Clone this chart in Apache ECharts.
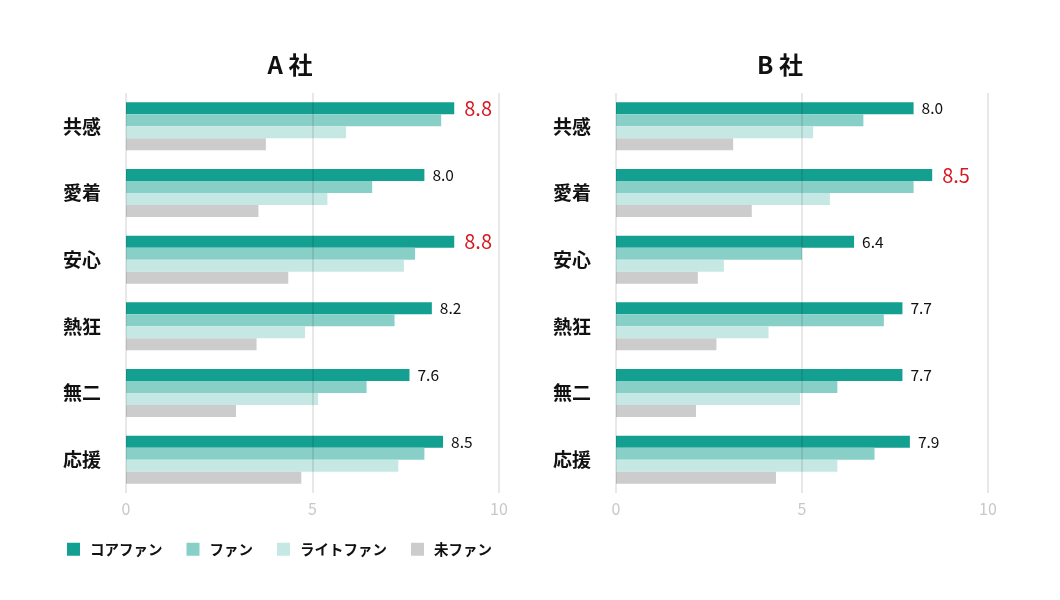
<!DOCTYPE html>
<html>
<head>
<meta charset="utf-8">
<script src="https://cdn.jsdelivr.net/npm/echarts@6/dist/echarts.min.js"></script>
<style>
html,body{margin:0;padding:0;background:#fff;}
#main{width:1060px;height:600px;}
</style>
</head>
<body>
<div id="main"></div>
<script>
const categories = ['共感', '愛着', '安心', '熱狂', '無二', '応援'];
const seriesNames = ['コアファン', 'ファン', 'ライトファン', '未ファン'];
const companyTitles = ['A 社', 'B 社'];
const xTicks = [0, 5, 10];

// A社
const aCore  = [8.8, 8.0, 8.8, 8.2, 7.6, 8.5];
const aFan   = [8.45, 6.6, 7.75, 7.2, 6.45, 8.0];
const aLight = [5.9, 5.4, 7.45, 4.8, 5.15, 7.3];
const aNon   = [3.75, 3.55, 4.35, 3.5, 2.95, 4.7];

// B社
const bCore  = [8.0, 8.5, 6.4, 7.7, 7.7, 7.9];
const bFan   = [6.65, 8.0, 5.0, 7.2, 5.95, 6.95];
const bLight = [5.3, 5.75, 2.9, 4.1, 4.95, 5.95];
const bNon   = [3.15, 3.65, 2.2, 2.7, 2.15, 4.3];

const colors = ['#14a091', '#88cfc8', '#c5e8e4', '#cccccc'];
const FONT = '"Noto Sans CJK JP", "Noto Sans", sans-serif';

function coreData(arr) {
  const mx = Math.max.apply(null, arr);
  return arr.map(v => {
    const hi = v === mx;
    return {
      value: v,
      label: hi ? { color: '#d7181f', fontSize: 20, distance: 10 } : { color: '#111', fontSize: 15.5, distance: 8 }
    };
  });
}

function makeSeries(idx, core, fan, light, non) {
  const sets = [coreData(core), fan, light, non];
  return sets.map((d, i) => ({
    name: seriesNames[i],
    type: 'bar',
    xAxisIndex: idx,
    yAxisIndex: idx,
    data: d,
    barWidth: 12,
    barGap: '0%',
    itemStyle: { color: colors[i] },
    z: 2,
    label: i === 0 ? {
      show: true,
      position: 'right',
      fontFamily: FONT,
      formatter: p => p.value.toFixed(1)
    } : { show: false }
  }));
}

const grids = [
  { left: 126, top: 93, width: 373, height: 400 },
  { left: 616, top: 93, width: 372, height: 400 }
];

const option = {
  backgroundColor: '#ffffff',
  animation: false,
  textStyle: { fontFamily: FONT },
  color: colors,
  title: [
    { text: companyTitles[0], left: 285, top: 48, textAlign: 'center',
      textStyle: { fontSize: 24, fontWeight: 'bold', color: '#111', fontFamily: FONT } },
    { text: companyTitles[1], left: 775, top: 48, textAlign: 'center',
      textStyle: { fontSize: 24, fontWeight: 'bold', color: '#111', fontFamily: FONT } }
  ],
  legend: {
    data: seriesNames,
    left: 62,
    top: 537,
    itemWidth: 13,
    itemHeight: 13,
    itemGap: 24,
    icon: 'rect',
    textStyle: { fontSize: 14.5, fontWeight: 'bold', color: '#111', fontFamily: FONT, padding: [0, 0, 0, 5] }
  },
  grid: grids,
  xAxis: [0, 1].map(i => ({
    type: 'value',
    gridIndex: i,
    min: xTicks[0],
    max: xTicks[xTicks.length - 1],
    interval: xTicks[1] - xTicks[0],
    z: 5,
    axisLine: { show: false },
    axisTick: { show: false },
    axisLabel: { color: '#c8c8c8', fontSize: 16, margin: 8, fontFamily: FONT },
    splitLine: { show: true, lineStyle: { color: 'rgba(0,0,0,0.09)', width: 2 } }
  })),
  yAxis: [0, 1].map(i => ({
    type: 'category',
    gridIndex: i,
    data: categories,
    inverse: true,
    axisLine: { show: false },
    axisTick: { show: false },
    axisLabel: { color: '#111', fontSize: 19, fontWeight: 'bold', margin: 25, fontFamily: FONT }
  })),
  series: [].concat(
    makeSeries(0, aCore, aFan, aLight, aNon),
    makeSeries(1, bCore, bFan, bLight, bNon)
  )
};

const chart = echarts.init(document.getElementById('main'), null, { renderer: 'canvas' });
chart.setOption(option);
</script>
</body>
</html>
